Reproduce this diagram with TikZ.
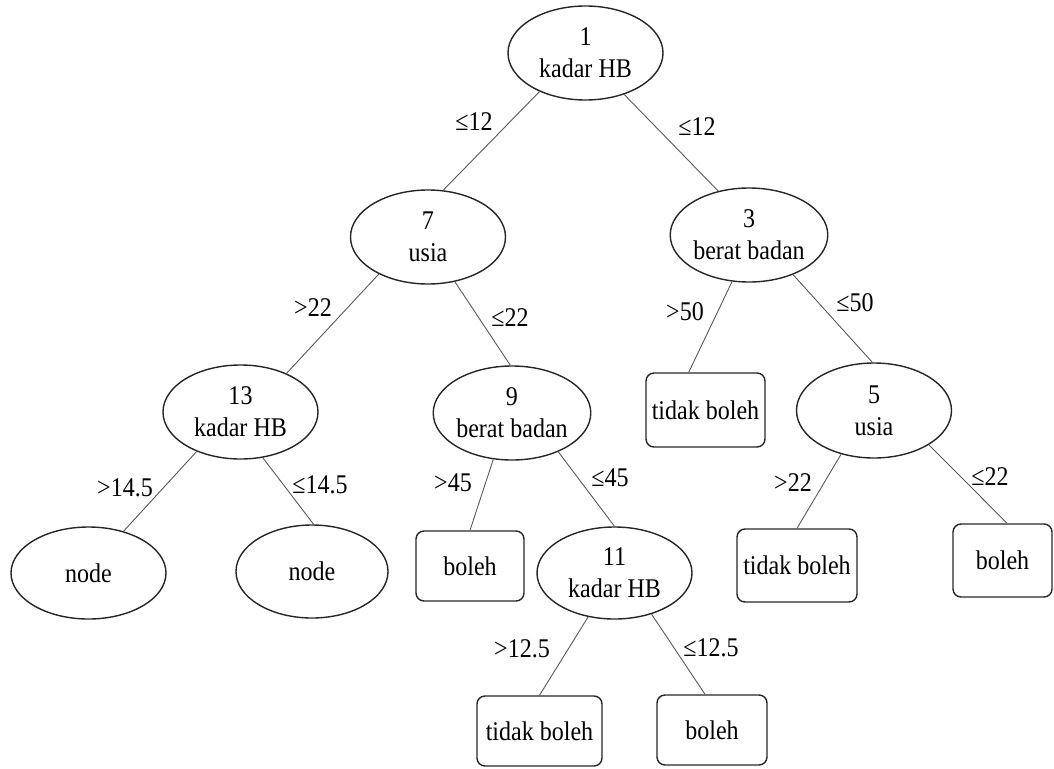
\documentclass[tikz,border=0pt]{standalone}
\usepackage{fontspec}
\setmainfont{Liberation Serif}[FakeStretch=0.89]
\usetikzlibrary{shapes.geometric}
\begin{document}
\begin{tikzpicture}[x=1pt,y=-1pt,
  every node/.style={font=\fontsize{27}{32}\selectfont},
  split/.style={ellipse, draw=black!85, line width=1.4pt, inner sep=0pt,
    minimum width=155pt, minimum height=94pt, align=center},
  leaf/.style={rectangle, rounded corners=8pt, draw=black!85, line width=1.4pt,
    inner sep=0pt, align=center},
  branch/.style={draw=black!65, line width=0.9pt},
  cond/.style={inner sep=0pt}]
\useasboundingbox (0,0) rectangle (1054,768);

% decision nodes
\node[split] (n1) at (585.5,53) {1\\kadar HB};
\node[split] (n7) at (428,237) {7\\usia};
\node[split] (n3) at (749,235) {3\\berat badan};
\node[split] (n13) at (240.5,412) {13\\kadar HB};
\node[split, minimum height=92pt] (nL) at (88.5,573) {node};
\node[split, minimum width=152pt, minimum height=93pt] (nR) at (312,571.5) {node};
\node[split] (n9) at (512,413) {9\\berat badan};
\node[split, minimum height=92pt] (n11) at (614.5,573) {11\\kadar HB};
\node[split, minimum height=95pt] (n5) at (874,410.5) {5\\usia};

% leaves
\node[leaf, minimum width=108pt, minimum height=70pt] (b9) at (470,566) {boleh};
\node[leaf, minimum width=119pt, minimum height=74pt] (t3) at (705.5,410) {tidak boleh};
\node[leaf, minimum width=120pt, minimum height=73pt] (t5) at (797,565.5) {tidak boleh};
\node[leaf, minimum width=99pt, minimum height=73pt] (b5) at (1002.5,560.5) {boleh};
\node[leaf, minimum width=125pt, minimum height=70pt] (t11) at (539.5,731) {tidak boleh};
\node[leaf, minimum width=110pt, minimum height=70pt] (b11) at (712,730) {boleh};

% branches
\draw[branch] (n1.220) -- (n7.72);
\draw[branch] (n1.313) -- (n3.125);
\draw[branch] (n7.217) -- (n13.40);
\draw[branch] (n7.301) -- (n9.92);
\draw[branch] (n13.222) -- (nL.50);
\draw[branch] (n13.296) -- (nR.88);
\draw[branch] (n9.248) -- (b9.north);
\draw[branch] (n9.320) -- (n11.north);
\draw[branch] (n11.239) -- (t11.north);
\draw[branch] (n11.312) -- (b11.101);
\draw[branch] (n3.250) -- (t3.114);
\draw[branch] (n3.318) -- (n5.92);
\draw[branch] (n5.233) -- (t5.north);
\draw[branch] (n5.328) -- (b5.83);

% branch conditions
\node[cond] (c1a) at (474,122) {≤12};
\node[cond] (c1b) at (697,127) {≤12};
\node[cond] (c7a) at (313,308) {>22};
\node[cond] (c7b) at (510,318) {≤22};
\node[cond] (c13a) at (125,488) {>14.5};
\node[cond] (c13b) at (320,485) {≤14.5};
\node[cond] (c9a) at (453,483) {>45};
\node[cond] (c9b) at (610,478) {≤45};
\node[cond] (c11a) at (522,649) {>12.5};
\node[cond] (c11b) at (711,648) {≤12.5};
\node[cond] (c3a) at (685,312) {>50};
\node[cond] (c3b) at (855,303) {≤50};
\node[cond] (c5a) at (793,483) {>22};
\node[cond] (c5b) at (990,477) {≤22};
\end{tikzpicture}
\end{document}
